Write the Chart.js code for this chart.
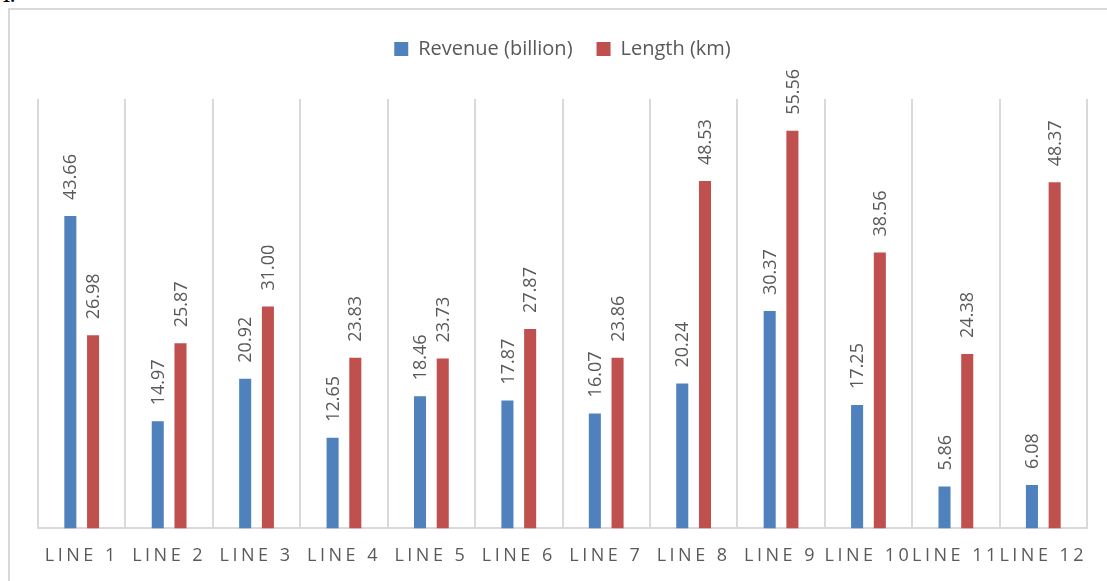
<!DOCTYPE html>
<html>
<head>
<meta charset="utf-8">
<script src="https://cdn.jsdelivr.net/npm/chart.js@4"></script>
<style>
  body { margin: 0; background: #fff; overflow: hidden; }
  #wrap { position: relative; width: 1107px; height: 581px; overflow: hidden; }
  #frame { position: absolute; left: 8px; top: 8px; width: 1130px; height: 620px; border: 2px solid #d9d9d9; box-sizing: border-box; }
  #cut { position: absolute; left: 2px; top: -13px; font: bold 17px "Liberation Serif", serif; color: #000; }
  #chartCanvas { position: absolute; left: 0; top: 0; }
</style>
</head>
<body>
<div id="wrap">
  <div id="frame"></div>
  <div id="cut">1.</div>
  <canvas id="chartCanvas" width="1107" height="585"></canvas>
</div>
<script>
const lineLabels = ['LINE 1', 'LINE 2', 'LINE 3', 'LINE 4', 'LINE 5', 'LINE 6', 'LINE 7', 'LINE 8', 'LINE 9', 'LINE 10', 'LINE 11', 'LINE 12'];
const revenueData = [43.66, 14.97, 20.92, 12.65, 18.46, 17.87, 16.07, 20.24, 30.37, 17.25, 5.86, 6.08];
const lengthData = [26.98, 25.87, 31.00, 23.83, 23.73, 27.87, 23.86, 48.53, 55.56, 38.56, 24.38, 48.37];

// values written upright above each bar
const barValues = {
  id: 'barValues',
  afterInit(chart) {
    // extra room between legend and plot
    const fit = chart.legend.fit;
    chart.legend.fit = function () {
      fit.call(this);
      this.height += 30;
    };
  },
  afterDatasetsDraw(chart) {
    const ctx = chart.ctx;
    ctx.save();
    ctx.font = '18px "Open Sans"';
    ctx.fillStyle = '#595959';
    ctx.textAlign = 'left';
    ctx.textBaseline = 'middle';
    chart.data.datasets.forEach((ds, i) => {
      chart.getDatasetMeta(i).data.forEach((bar, j) => {
        ctx.save();
        ctx.translate(bar.x, bar.y - 16);
        ctx.rotate(-Math.PI / 2);
        ctx.fillText(ds.data[j].toFixed(2), 0, 1);
        ctx.restore();
      });
    });
    ctx.restore();
    // spaced-out category labels are drawn after this (ticks z: 1)
    ctx.letterSpacing = '3.5px';
  },
  afterDraw(chart) {
    chart.ctx.letterSpacing = '0px';
  }
};

const ctx = document.getElementById('chartCanvas').getContext('2d');
const chart = new Chart(ctx, {
  type: 'bar',
  data: {
    labels: lineLabels,
    datasets: [
      {
        label: 'Revenue (billion)',
        backgroundColor: '#4F81BD',
        data: revenueData
      },
      {
        label: 'Length (km)',
        backgroundColor: '#C0504D',
        data: lengthData
      }
    ]
  },
  options: {
    responsive: false,
    animation: false,
    devicePixelRatio: 1,
    categoryPercentage: 0.52,
    barPercentage: 0.53,
    layout: { padding: { left: 38, right: 20, top: 15, bottom: 1 } },
    plugins: {
      tooltip: { enabled: false },
      legend: {
        position: 'top',
        labels: {
          color: '#595959',
          font: { family: '"Open Sans"', size: 20 },
          boxWidth: 14,
          boxHeight: 14,
          padding: 24
        }
      }
    },
    scales: {
      x: {
        grid: { color: '#d9d9d9', lineWidth: 2, drawTicks: false },
        border: { color: '#d9d9d9', width: 2 },
        ticks: {
          z: 1,
          color: '#595959',
          font: { family: '"Open Sans"', size: 18 },
          padding: 17,
          maxRotation: 0,
          autoSkip: false
        }
      },
      y: {
        display: false,
        min: 0,
        max: 60
      }
    }
  },
  plugins: [barValues]
});
</script>
</body>
</html>
